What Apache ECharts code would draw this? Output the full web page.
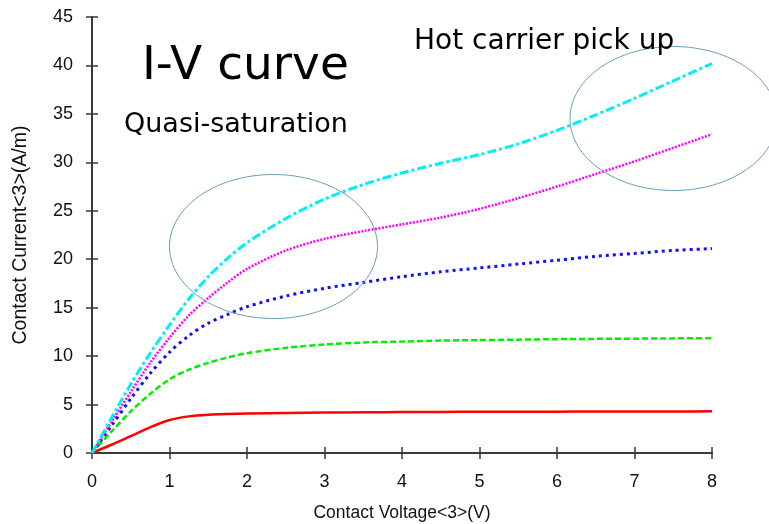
<!DOCTYPE html>
<html>
<head>
<meta charset="utf-8">
<script src="https://cdn.jsdelivr.net/npm/echarts@6/dist/echarts.min.js"></script>
<style>
  html, body { margin: 0; padding: 0; background: #fff; }
  #ch1 { width: 769px; height: 524px; }
</style>
</head>
<body>
<div id="ch1"></div>
<script>
// contact voltage (V)
var voltage = [0, 0.25, 0.5, 0.75, 1, 1.25, 1.5, 1.75, 2, 2.5, 3, 3.5, 4, 4.5, 5, 5.5, 6, 6.5, 7, 7.5, 8];
// contact current (A/m), one curve per gate bias
var curRed     = [0, 0.85, 1.75, 2.65, 3.4, 3.78, 3.95, 4.03, 4.08, 4.14, 4.17, 4.2, 4.22, 4.24, 4.25, 4.26, 4.27, 4.28, 4.28, 4.29, 4.3];
var curGreen   = [0, 2.2, 4.3, 6.1, 7.6, 8.6, 9.3, 9.85, 10.3, 10.85, 11.2, 11.4, 11.5, 11.6, 11.65, 11.7, 11.75, 11.78, 11.8, 11.83, 11.85];
var curBlue    = [0, 2.8, 5.6, 8.2, 10.4, 12.1, 13.4, 14.3, 15.1, 16.2, 17.0, 17.6, 18.2, 18.7, 19.1, 19.5, 19.9, 20.3, 20.6, 20.9, 21.1];
var curMagenta = [0, 3.2, 6.3, 9.3, 11.9, 14.2, 16.0, 17.6, 19.0, 20.9, 22.1, 22.9, 23.6, 24.3, 25.2, 26.3, 27.5, 28.8, 30.1, 31.5, 32.9];
var curCyan    = [0, 3.6, 7.1, 10.3, 13.2, 15.9, 18.2, 20.1, 21.7, 24.2, 26.2, 27.7, 28.9, 29.9, 30.8, 31.9, 33.3, 34.9, 36.6, 38.4, 40.2];

var xTicks = [0, 1, 2, 3, 4, 5, 6, 7, 8];
var yTicks = [0, 5, 10, 15, 20, 25, 30, 35, 40, 45];

function pairs(ys) {
  return voltage.map(function (v, i) { return [v, ys[i]]; });
}

window.onload = function () {
  var ch1 = echarts.init(document.getElementById('ch1'));
  var axisCol = '#3a3a3a';
  var lbl = { color: '#111', fontSize: 18, fontFamily: 'Liberation Sans' };

  function curve(name, ys, color, width, type) {
    return {
      name: name,
      type: 'line',
      data: pairs(ys),
      smooth: 0.3,
      showSymbol: false,
      symbol: 'none',
      lineStyle: { color: color, width: width, type: type }
    };
  }

  var op1 = {
    animation: false,
    backgroundColor: '#fff',
    grid: { left: 92, right: 57, top: 17, bottom: 71, containLabel: false, outerBoundsMode: 'none' },
    xAxis: [{
      type: 'value',
      min: xTicks[0],
      max: xTicks[xTicks.length - 1],
      interval: 1,
      name: 'Contact Voltage<3>(V)',
      nameLocation: 'middle',
      nameGap: 51,
      nameTextStyle: { color: '#111', fontSize: 17.5, fontFamily: 'Liberation Sans' },
      axisLine: { lineStyle: { color: axisCol, width: 2 } },
      axisTick: { length: 6, lineStyle: { color: axisCol, width: 1.5 } },
      axisLabel: Object.assign({ margin: 20 }, lbl),
      splitLine: { show: false }
    }, {
      type: 'value',
      position: 'top',
      min: 0, max: 8, interval: 1,
      axisLine: { lineStyle: { color: axisCol, width: 2 } },
      axisTick: { length: 6, lineStyle: { color: axisCol, width: 1.5 } },
      axisLabel: { show: false },
      splitLine: { show: false }
    }],
    yAxis: [{
      type: 'value',
      min: yTicks[0],
      max: yTicks[yTicks.length - 1],
      interval: 5,
      name: 'Contact Current<3>(A/m)',
      nameLocation: 'middle',
      nameGap: 61,
      nameTextStyle: { color: '#111', fontSize: 19.5, fontFamily: 'Liberation Sans' },
      axisLine: { lineStyle: { color: axisCol, width: 2 } },
      axisTick: { length: 6, lineStyle: { color: axisCol, width: 1.5 } },
      axisLabel: Object.assign({ margin: 19 }, lbl),
      splitLine: { show: false }
    }, {
      type: 'value',
      position: 'right',
      min: 0, max: 45, interval: 5,
      axisLine: { show: true, lineStyle: { color: axisCol, width: 2 } },
      axisTick: { show: true, length: 6, lineStyle: { color: axisCol, width: 1.5 } },
      axisLabel: { show: false },
      splitLine: { show: false }
    }],
    series: [
      curve('red', curRed, '#ff0000', 2.5, 'solid'),
      curve('green', curGreen, '#00ee00', 2.5, [6, 3]),
      curve('blue', curBlue, '#1010ff', 3, [3, 4]),
      curve('magenta', curMagenta, '#ff00ff', 2.5, [2, 1.5]),
      curve('cyan', curCyan, '#00f0f0', 3, [9, 3, 3, 3])
    ],
    graphic: [
      { type: 'ellipse', shape: { cx: 273.5, cy: 246.5, rx: 104, ry: 72 },
        style: { fill: 'none', stroke: '#6a9fb5', lineWidth: 1 }, z: 10 },
      { type: 'ellipse', shape: { cx: 673.5, cy: 118.5, rx: 103.5, ry: 72 },
        style: { fill: 'none', stroke: '#6a9fb5', lineWidth: 1 }, z: 10 },
      { type: 'text', x: 142, y: 67, z: 11,
        style: { text: 'I-V curve', fill: '#000', font: '47px "DejaVu Sans"', verticalAlign: 'middle' } },
      { type: 'text', x: 124, y: 125, z: 11,
        style: { text: 'Quasi-saturation', fill: '#000', font: '27px "DejaVu Sans"', verticalAlign: 'middle' } },
      { type: 'text', x: 414, y: 42, z: 11,
        style: { text: 'Hot carrier pick up', fill: '#000', font: '28px "DejaVu Sans"', verticalAlign: 'middle' } }
    ]
  };

  ch1.setOption(op1);
};
</script>
</body>
</html>
